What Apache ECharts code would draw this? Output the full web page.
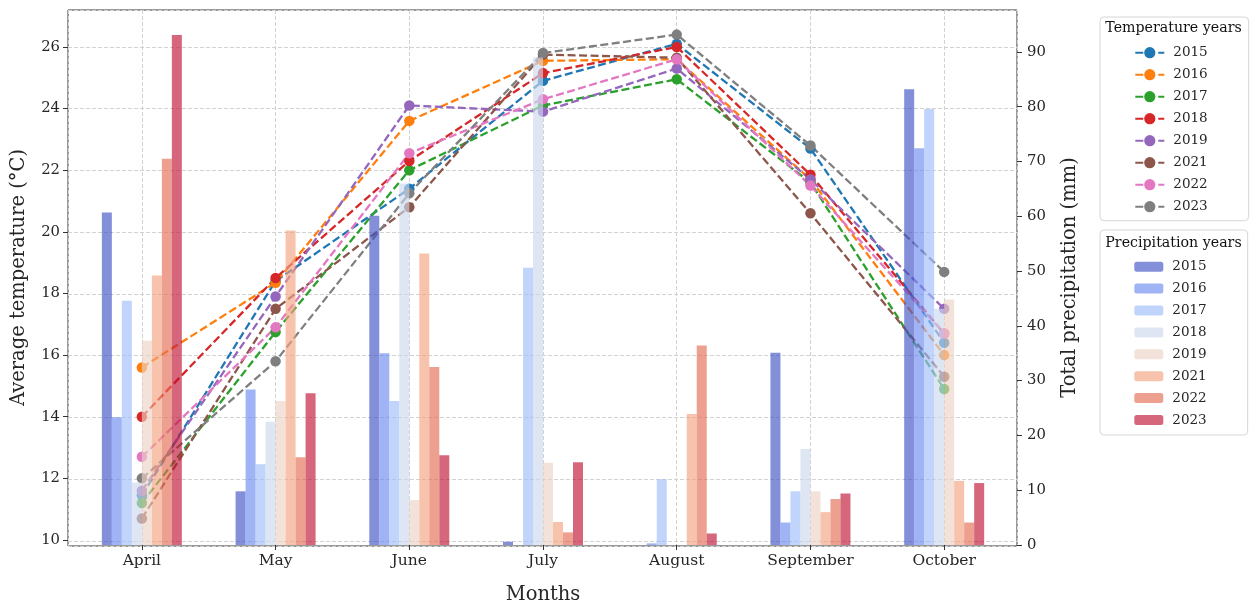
<!DOCTYPE html>
<html>
<head>
<meta charset="utf-8">
<script src="https://cdn.jsdelivr.net/npm/echarts@6/dist/echarts.min.js"></script>
<style>html,body{margin:0;padding:0;background:#fff}#c{width:1250px;height:610px}</style>
</head>
<body>
<div id="c"></div>
<script>
// ---------------- data ----------------
const months = ['April', 'May', 'June', 'July', 'August', 'September', 'October'];
const years = ['2015', '2016', '2017', '2018', '2019', '2021', '2022', '2023'];

// average temperature (°C) per month
const temp2015 = [11.45, 18.4, 21.4, 24.9, 26.1, 22.7, 16.4];
const temp2016 = [15.6, 18.35, 23.6, 25.55, 25.6, 21.7, 16.0];
const temp2017 = [11.2, 16.75, 22.0, 24.1, 24.95, 21.6, 14.9];
const temp2018 = [14.0, 18.5, 22.3, 25.15, 26.0, 21.85, 16.7];
const temp2019 = [11.6, 17.9, 24.1, 23.9, 25.3, 21.7, 17.5];
const temp2021 = [10.7, 17.5, 20.8, 25.75, 25.65, 20.6, 15.3];
const temp2022 = [12.7, 16.9, 22.55, 24.3, 25.6, 21.5, 16.7];
const temp2023 = [12.0, 15.8, 21.25, 25.8, 26.4, 22.8, 18.7];

// total precipitation (mm) per month
const prec2015 = [60.7, 9.8, 60.1, 0.6, 0, 35.1, 83.2];
const prec2016 = [23.3, 28.4, 35.0, 0, 0.3, 4.1, 72.4];
const prec2017 = [44.6, 14.75, 26.3, 50.6, 12.0, 9.8, 79.6];
const prec2018 = [11.4, 22.5, 66.0, 89.0, 0, 17.5, 43.1];
const prec2019 = [37.3, 26.3, 8.2, 15.0, 0, 9.8, 44.8];
const prec2021 = [49.2, 57.4, 53.2, 4.2, 23.9, 6.0, 11.7];
const prec2022 = [70.5, 16.0, 32.5, 2.3, 36.4, 8.4, 4.1];
const prec2023 = [93.1, 27.7, 16.4, 15.1, 2.1, 9.4, 11.3];

// tick labels
const tempTicks = [10, 12, 14, 16, 18, 20, 22, 24, 26];
const precTicks = [0, 10, 20, 30, 40, 50, 60, 70, 80, 90];

const tempSeries = [temp2015, temp2016, temp2017, temp2018, temp2019, temp2021, temp2022, temp2023];
const precSeries = [prec2015, prec2016, prec2017, prec2018, prec2019, prec2021, prec2022, prec2023];

// ---------------- styles ----------------
const lineColors = ['#1f77b4', '#ff7f0e', '#2ca02c', '#d62728', '#9467bd', '#8c564b', '#e377c2', '#7f7f7f'];
const barColors = [
  'rgba(64,84,196,0.65)', 'rgba(107,138,240,0.65)', 'rgba(160,189,249,0.65)', 'rgba(204,217,238,0.65)',
  'rgba(237,210,197,0.65)', 'rgba(244,163,127,0.65)', 'rgba(227,109,83,0.65)', 'rgba(190,20,53,0.65)'
];
const FONT = 'DejaVu Serif';
const TXT = '#262626';
const GRIDC = '#d2d2d2';

const frameL = 68, frameR = 1017, frameT = 10, frameB = 546;
const x0 = 75, bandW = 133.72;
const gridW = bandW * months.length;
const firstC = x0 + bandW / 2;
const xMin = -(firstC - frameL) / bandW;
const xMax = (frameR - firstC) / bandW;
const tMin = 9.838, tMax = 27.198;
const pMax = 97.65;

const series = [];
years.forEach((y, i) => {
  series.push({
    name: 'T' + y, type: 'line', xAxisIndex: 0, yAxisIndex: 0,
    data: tempSeries[i], symbol: 'circle', symbolSize: 10.5, showSymbol: true,
    lineStyle: { color: lineColors[i], width: 2.3, type: [8, 3.5] },
    itemStyle: { color: lineColors[i] }, z: 2, emphasis: { disabled: true }
  });
});
years.forEach((y, i) => {
  series.push({
    name: 'P' + y, type: 'bar', xAxisIndex: 0, yAxisIndex: 1,
    data: precSeries[i], barWidth: 10, barGap: '0%',
    itemStyle: { color: barColors[i] }, z: 3, emphasis: { disabled: true }
  });
});

const legendCommon = {
  orient: 'vertical', left: 1100, itemWidth: 29, selectedMode: false,
  borderColor: '#d6d6d6', borderWidth: 1, borderRadius: 4, backgroundColor: '#fff',
  formatter: n => n.slice(1),
  textStyle: { fontSize: 13.5, color: TXT, fontFamily: FONT, lineHeight: 14, padding: [0, 0, 0, 4] }
};

const option = {
  animation: false,
  textStyle: { fontFamily: FONT },
  grid: [
    { left: x0, top: frameT, width: gridW, height: frameB - frameT },
    { left: frameL, top: frameT, width: frameR - frameL, height: frameB - frameT, show: true,
      borderColor: '#333', borderWidth: 1, backgroundColor: 'rgba(0,0,0,0)' }
  ],
  xAxis: [
    { type: 'category', gridIndex: 0, data: months, boundaryGap: true,
      axisLine: { show: false },
      axisTick: { show: true, alignWithLabel: true, length: 5, lineStyle: { color: '#333' } },
      axisLabel: { interval: 0, margin: 8, fontSize: 15.5, color: TXT, fontFamily: FONT },
      splitLine: { show: false },
      name: 'Months', nameLocation: 'middle', nameGap: 40,
      nameTextStyle: { fontSize: 19.5, color: TXT, fontFamily: FONT } },
    { type: 'value', gridIndex: 1, min: xMin, max: xMax, splitNumber: 7,
      axisLine: { show: false }, axisTick: { show: false }, axisLabel: { show: false },
      splitLine: { show: true, lineStyle: { color: GRIDC, type: [4, 2], width: 1 } } }
  ],
  yAxis: [
    { type: 'value', gridIndex: 0, min: tMin, max: tMax, position: 'left', offset: x0 - frameL,
      axisLine: { show: false },
      axisTick: { show: true, length: 5, customValues: tempTicks, lineStyle: { color: '#333' } },
      axisLabel: { margin: 8, fontSize: 14.8, color: TXT, fontFamily: FONT, customValues: tempTicks },
      splitLine: { show: false },
      name: 'Average temperature (°C)', nameLocation: 'middle', nameGap: 39, nameRotate: 90,
      nameTextStyle: { fontSize: 19.5, color: TXT, fontFamily: FONT } },
    { type: 'value', gridIndex: 0, min: 0, max: pMax, position: 'right', offset: frameR - (x0 + gridW),
      axisLine: { show: false },
      axisTick: { show: true, length: 5, customValues: precTicks, lineStyle: { color: '#333' } },
      axisLabel: { margin: 10, fontSize: 14.8, color: TXT, fontFamily: FONT, customValues: precTicks },
      splitLine: { show: false },
      name: 'Total precipitation (mm)', nameLocation: 'middle', nameGap: 43, nameRotate: 90,
      nameTextStyle: { fontSize: 19.5, color: TXT, fontFamily: FONT } },
    { type: 'value', gridIndex: 1, min: tMin, max: tMax, splitNumber: 9,
      axisLine: { show: false }, axisTick: { show: false }, axisLabel: { show: false },
      splitLine: { show: true, lineStyle: { color: GRIDC, type: [4, 2], width: 1 } } }
  ],
  legend: [
    Object.assign({}, legendCommon, {
      data: years.map(y => 'T' + y), top: 17, padding: [28.7, 41, 7, 34.3],
      itemHeight: 14, itemGap: 8
    }),
    Object.assign({}, legendCommon, {
      data: years.map(y => 'P' + y), top: 230, padding: [29.7, 41, 8, 34.3],
      itemHeight: 10, itemGap: 7.9
    })
  ],
  graphic: [
    { type: 'text', x: 1173.5, y: 28.3, z: 100,
      style: { text: 'Temperature years', fontSize: 14.2, fontFamily: FONT, fill: '#111', align: 'center', verticalAlign: 'middle' } },
    { type: 'text', x: 1173.5, y: 243, z: 100,
      style: { text: 'Precipitation years', fontSize: 14.2, fontFamily: FONT, fill: '#111', align: 'center', verticalAlign: 'middle' } }
  ],
  series: series
};

const chart = echarts.init(document.getElementById('c'), null, { renderer: 'canvas' });
chart.setOption(option);
</script>
</body>
</html>
